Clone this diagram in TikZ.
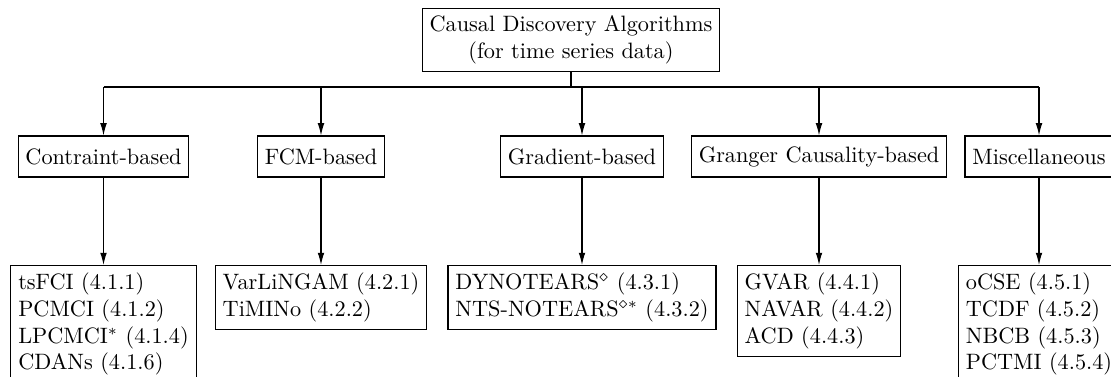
\documentclass[tikz,border=0pt]{standalone}
\usetikzlibrary{arrows.meta}
\begin{document}
\begin{tikzpicture}[x=0.4492pt, y=-0.4492pt,
  box/.style={draw, line width=0.5pt, inner sep=0.333em},
  rootbox/.style={box, align=center},
  catbox/.style={box, minimum height=18.4pt},
  leafbox/.style={box, align=left, anchor=north},
  link/.style={line width=0.5pt, -{Latex[length=5.5pt,width=3pt]}},
  trunk/.style={line width=0.5pt}]
\useasboundingbox (0,0) rectangle (1111,376);

% root
\node[rootbox] (root) at (571,40) {Causal Discovery Algorithms\\(for time series data)};

% categories
\node[catbox] (c1) at (103.5,156.5) {Contraint-based};
\node[catbox] (c2) at (321,156.5) {FCM-based};
\node[catbox] (c3) at (582,156.5) {Gradient-based};
\node[catbox] (c4) at (819,156.5) {Granger Causality-based};
\node[catbox] (c5) at (1039,156.5) {Miscellaneous};

% algorithm lists
\node[leafbox] (l1) at (103.5,265) {tsFCI (4.1.1)\\PCMCI (4.1.2)\\LPCMCI$^{*}$ (4.1.4)\\CDANs (4.1.6)};
\node[leafbox] (l2) at (321,265) {VarLiNGAM (4.2.1)\\TiMINo (4.2.2)};
\node[leafbox] (l3) at (582,265) {DYNOTEARS$^{\diamond}$ (4.3.1)\\NTS-NOTEARS$^{\diamond *}$ (4.3.2)};
\node[leafbox] (l4) at (819,265) {GVAR (4.4.1)\\NAVAR (4.4.2)\\ACD (4.4.3)};
\node[leafbox] (l5) at (1039,265) {oCSE (4.5.1)\\TCDF (4.5.2)\\NBCB (4.5.3)\\PCTMI (4.5.4)};

% branching from the root
\coordinate (hub) at (571,87);
\draw[trunk] (root.south) -- (hub);
\draw[trunk] (hub -| c1.north) -- (hub -| c5.north);
\foreach \c in {c1,c2,c3,c4,c5}
  \draw[link] (hub -| \c.north) -- (\c.north);

% categories to their algorithms
\foreach \i in {1,...,5}
  \draw[link] (c\i.south) -- (l\i.north);
\end{tikzpicture}
\end{document}
